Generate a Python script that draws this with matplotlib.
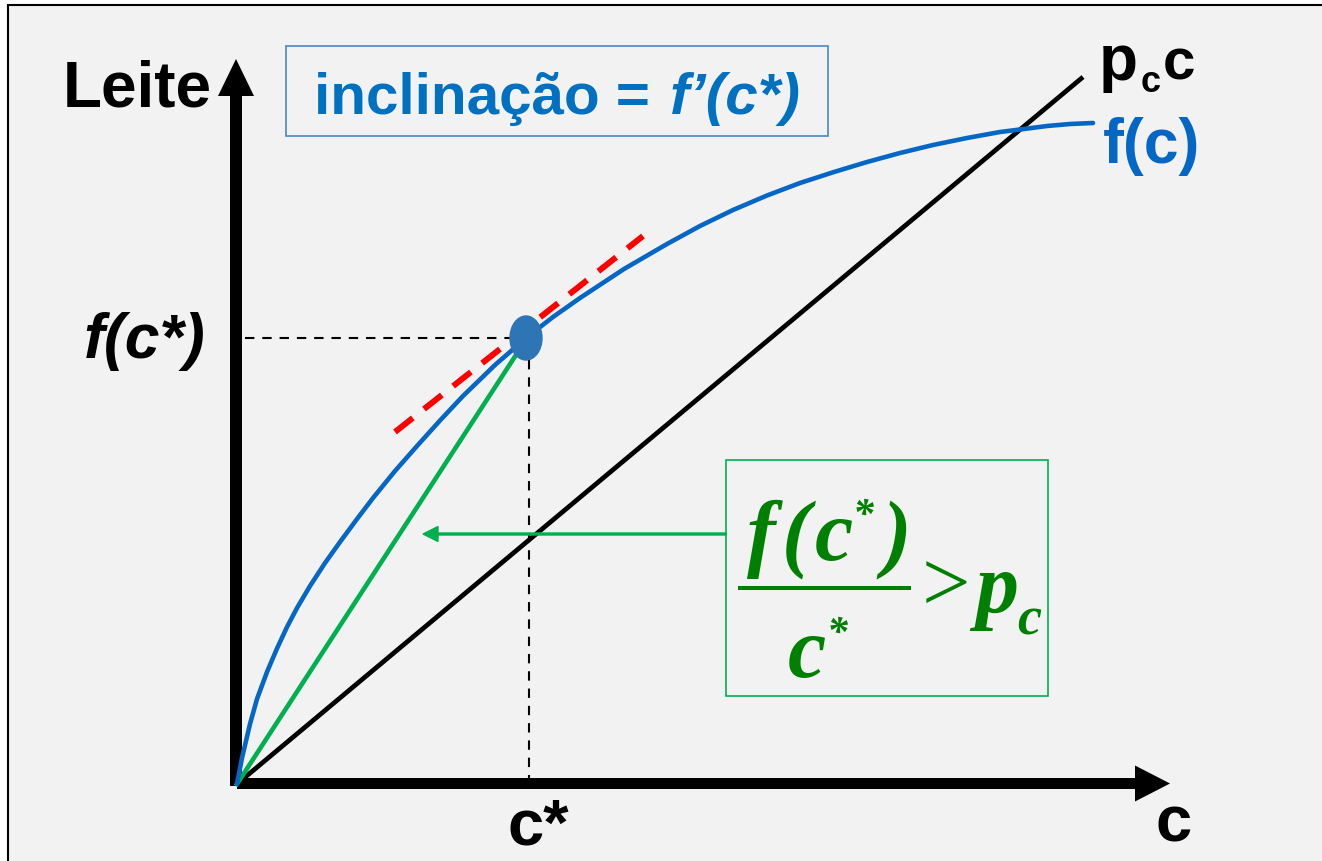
import matplotlib.pyplot as plt
from matplotlib.patches import Rectangle, Ellipse

SANS = 'Liberation Sans'
SERIF = 'Liberation Serif'

# diagram units: origin at the corner of the axes, 1 unit = 100 px
# production curve f(c)
c_vals = [0.0, 0.05, 0.13, 0.20, 0.30, 0.40, 0.50, 0.60, 0.73, 0.88, 1.03,
          1.20, 1.36, 1.58, 1.80, 2.03, 2.26, 2.58, 2.89, 3.16, 3.43, 3.87,
          4.30, 4.63, 4.96, 5.30, 5.63, 5.97, 6.30, 6.63, 6.96, 7.30, 7.63,
          7.87, 8.10, 8.33, 8.56]
f_vals = [0.0, 0.26, 0.60, 0.85, 1.12, 1.355, 1.57, 1.76, 1.98, 2.21, 2.42,
          2.65, 2.86, 3.13, 3.38, 3.635, 3.88, 4.19, 4.46, 4.67, 4.86, 5.15,
          5.40, 5.58, 5.74, 5.885, 6.01, 6.12, 6.22, 6.31, 6.39, 6.46, 6.52,
          6.55, 6.58, 6.60, 6.61]

# the chosen point c*, f(c*)
c_star = 2.90
f_star = 4.46

# cost line p_c * c
pc_c = [0.0, 8.46]
pc_y = [0.0, 7.07]

# tangent at c*
tan_c = [1.58, 4.06]
tan_y = [3.52, 5.48]

BLUE = '#0567c5'
GREEN = '#00b050'
DKGREEN = '#008000'

fig = plt.figure(figsize=(13.22, 8.62), dpi=100)
ax = fig.add_axes([0, 0, 1, 1])
ax.set_xlim(-2.37, 10.85)
ax.set_ylim(-0.77, 7.85)
ax.axis('off')

# slide background with border
ax.add_patch(Rectangle((-2.29, -1.0), 13.5, 8.79, facecolor='#f2f2f2',
                       edgecolor='black', lw=1.5, zorder=0))

# axes arrows
ax.arrow(-0.01, -0.02, 0, 7.27, width=0.12, head_width=0.36, head_length=0.37,
         length_includes_head=True, fc='black', ec='none', zorder=1)
ax.arrow(0.0, 0.005, 9.33, 0, width=0.11, head_width=0.36, head_length=0.35,
         length_includes_head=True, fc='black', ec='none', zorder=1)

# curves
ax.plot(pc_c, pc_y, color='black', lw=3.4, solid_capstyle='butt', zorder=3)
ax.plot([0, c_star], [0, f_star], color=GREEN, lw=3.3, zorder=3)
ax.plot(c_vals, f_vals, color=BLUE, lw=3.3, solid_capstyle='round',
        solid_joinstyle='round', zorder=4)
ax.plot(tan_c, tan_y, color='red', lw=4.3, dashes=(3.8, 2.4), zorder=4)

# guide lines to the axes
ax.plot([0.08, c_star - 0.17], [f_star, f_star], color='black', lw=1.5,
        dashes=(4.5, 3.8), zorder=2)
ax.plot([c_star + 0.02, c_star + 0.02], [f_star - 0.22, 0.06], color='black',
        lw=1.5, dashes=(4.5, 3.8), zorder=2)

ax.add_patch(Ellipse((c_star - 0.01, f_star), 0.32, 0.44, color='#2e75b6', zorder=5))

# labels
ax.text(-1.74, 6.78, 'Leite', fontsize=46, fontweight='bold', family=SANS,
        va='baseline', ha='left')
ax.text(-1.53, 4.27, 'f(c*)', fontsize=45, fontweight='bold', style='italic',
        family=SANS, va='baseline', ha='left')
ax.text(2.70, -0.60, 'c*', fontsize=47, fontweight='bold', family=SANS,
        va='baseline', ha='left')
ax.text(9.18, -0.57, 'c', fontsize=47, fontweight='bold', family=SANS,
        va='baseline', ha='left')
ax.text(8.62, 7.05, 'p', fontsize=46, fontweight='bold', family=SANS,
        va='baseline', ha='left')
ax.text(9.04, 6.93, 'c', fontsize=26, fontweight='bold', family=SANS,
        va='baseline', ha='left')
ax.text(9.26, 7.05, 'c', fontsize=42, fontweight='bold', family=SANS,
        va='baseline', ha='left')
ax.text(8.66, 6.22, 'f(c)', fontsize=45, fontweight='bold', family=SANS,
        color=BLUE, va='baseline', ha='left')

# slope box
ax.add_patch(Rectangle((0.49, 6.48), 5.42, 0.90, facecolor='none',
                       edgecolor='#4a86c8', lw=1.2, zorder=2))
ax.text(0.77, 6.71, 'inclinação =', fontsize=42, fontweight='bold',
        family=SANS, color='#0070c0', va='baseline', ha='left')
ax.text(4.33, 6.71, 'f’(c*)', fontsize=42, fontweight='bold', style='italic',
        family=SANS, color='#0070c0', va='baseline', ha='left')

# average product box and arrow
ax.add_patch(Rectangle((4.89, 0.88), 3.22, 2.36, facecolor='none',
                       edgecolor=GREEN, lw=1.2, zorder=2))
ax.arrow(4.89, 2.50, -3.03, 0, width=0.02, head_width=0.15, head_length=0.15,
         length_includes_head=True, fc=GREEN, ec=GREEN, zorder=3)

# f(c*)/c* > p_c, set glyph by glyph
bi = dict(family=SERIF, style='italic', fontweight='bold', color=DKGREEN,
          ha='center', va='baseline')
ax.text(5.24, 2.25, 'f', fontsize=62, **bi)
ax.text(5.59, 2.25, '(', fontsize=62, **bi)
ax.text(5.97, 2.25, 'c', fontsize=62, **bi)
ax.text(6.26, 2.58, '*', fontsize=30, **bi)
ax.text(6.60, 2.25, ')', fontsize=62, **bi)
ax.plot([5.01, 6.74], [1.96, 1.96], color=DKGREEN, lw=2.9, solid_capstyle='butt')
ax.text(5.70, 1.08, 'c', fontsize=62, **bi)
ax.text(6.00, 1.405, '*', fontsize=30, **bi)
ax.text(7.09, 1.745, '>', fontsize=62, family=SERIF, color=DKGREEN,
        ha='center', va='baseline')
ax.text(7.60, 1.73, 'p', fontsize=62, **bi)
ax.text(7.92, 1.50, 'c', fontsize=39, **bi)

fig.savefig('out.png', dpi=100, facecolor='white')
